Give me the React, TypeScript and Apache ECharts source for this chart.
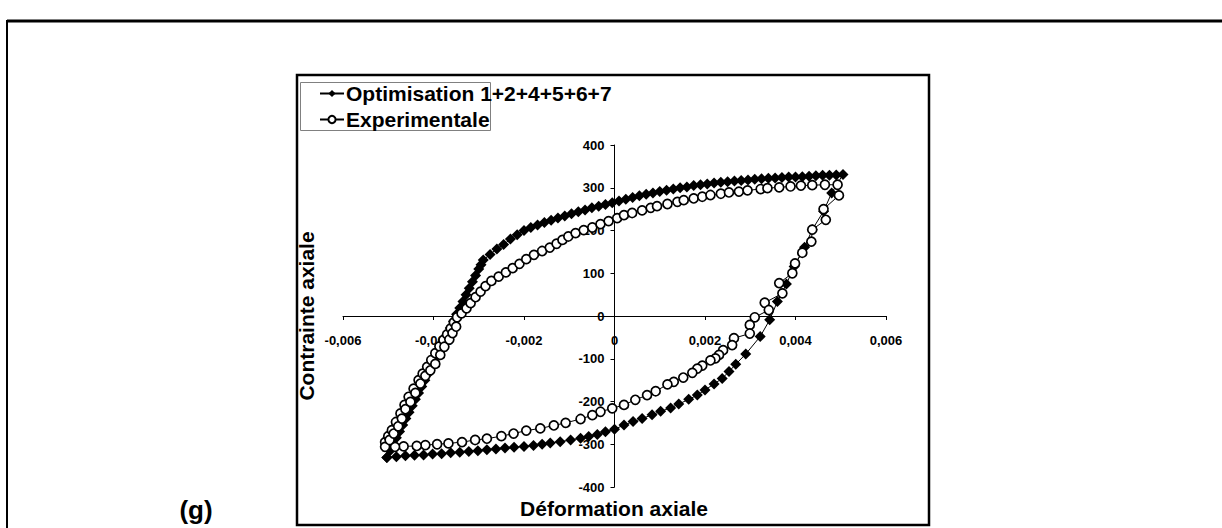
import React, { useEffect, useRef } from "react";
import * as echarts from "echarts";

// Optimisation 1+2+4+5+6+7 : strain (x) and stress (y)
const OPT_STRAIN = [
  -0.00503, -0.00496, -0.00489, -0.00482, -0.00475, -0.00468, -0.00461, -0.00454, -0.00447, -0.0044,
  -0.00433, -0.00426, -0.00419, -0.00412, -0.00405, -0.00398, -0.00391, -0.00384, -0.00377, -0.0037,
  -0.00363, -0.00356, -0.00349, -0.00342, -0.00335, -0.00328, -0.00321, -0.00314, -0.00307, -0.003,
  -0.00295,
  -0.0029, -0.00275, -0.0026, -0.00245, -0.0023, -0.00215, -0.002, -0.00185, -0.0017, -0.00155,
  -0.0014, -0.00125, -0.0011, -0.00095, -0.0008, -0.00065, -0.0005, -0.00035, -0.0002, -0.00005,
  0.0001, 0.00025, 0.0004, 0.00055, 0.0007, 0.00085, 0.001, 0.00115, 0.0013, 0.00145,
  0.0016, 0.00175, 0.0019, 0.00205, 0.0022, 0.00235, 0.0025, 0.00265, 0.0028, 0.00295,
  0.0031, 0.00325, 0.0034, 0.00355, 0.0037, 0.00385, 0.004, 0.00415, 0.0043, 0.00445,
  0.0046, 0.00475, 0.0049, 0.00505,
  0.0048, 0.00462, 0.00437, 0.0042, 0.00397, 0.0038, 0.0036, 0.00343, 0.00322, 0.0029,
  0.00268, 0.00253, 0.00238, 0.0022, 0.002, 0.00183, 0.00164, 0.00142, 0.00124, 0.00102,
  0.00083, 0.00061, 0.00041, 0.00021, 0.0, -0.0002, -0.00038, -0.00057, -0.00075, -0.00097,
  -0.0012, -0.00142, -0.0016, -0.00179, -0.002, -0.00222, -0.00242, -0.00262, -0.00282, -0.00302,
  -0.00322, -0.00342, -0.00362, -0.00382, -0.00402, -0.00422, -0.00442, -0.00462, -0.00482, -0.00503,
];
const OPT_STRESS = [
  -331, -315, -300, -285, -270, -255, -240, -225, -210, -195,
  -180, -165, -150, -135, -120, -105, -90, -75, -60, -44,
  -28, -12, 4, 19, 34, 50, 65, 80, 95, 110,
  120,
  131, 144, 157, 167, 180, 190, 200, 207, 213, 219,
  224, 229, 234, 239, 244, 248, 253, 257, 261, 265,
  269, 273, 277, 281, 285, 288, 291, 294, 297, 300,
  302, 305, 307, 309, 311, 313, 314, 316, 317, 318,
  320, 321, 322, 323, 324, 325, 325, 326, 327, 328,
  329, 329, 330, 331,
  288, 245, 202, 161, 116, 75, 34, -9, -48, -89,
  -113, -130, -146, -159, -173, -185, -195, -206, -215, -223,
  -231, -240, -247, -255, -265, -271, -277, -282, -286, -290,
  -294, -297, -300, -303, -305, -307, -309, -311, -313, -315,
  -317, -319, -320, -322, -323, -325, -326, -327, -329, -331,
];

// Experimentale : strain (x) and stress (y)
const EXP_STRAIN = [
  -0.00507, -0.005, -0.00492, -0.00483, -0.00473, -0.00464, -0.00455, -0.00444, -0.00433, -0.00424,
  -0.00414, -0.00405, -0.00396, -0.00387, -0.00378, -0.0037, -0.00362, -0.00355, -0.00348, -0.00338,
  -0.00327, -0.00318, -0.00307, -0.00296, -0.00285, -0.00272, -0.00256, -0.0024, -0.00225, -0.0021,
  -0.00195, -0.00178, -0.0016, -0.00143, -0.00128, -0.00115, -0.00102, -0.00086, -0.00068, -0.00049,
  -0.00031, -0.00013, 0.00006, 0.00021, 0.00039, 0.00061, 0.0008, 0.00094, 0.00117, 0.00139,
  0.00153, 0.00175, 0.00194, 0.00212, 0.00235, 0.00253, 0.00275, 0.00294, 0.00323, 0.00338,
  0.00364, 0.00389, 0.00412, 0.00437, 0.00465, 0.00493,
  0.00496, 0.00462, 0.00467, 0.00437, 0.00435, 0.00415, 0.00399, 0.00393, 0.00364, 0.00371,
  0.00332, 0.00341, 0.0031, 0.00299, 0.00299, 0.00264, 0.0026, 0.0024, 0.00231, 0.00223,
  0.00212, 0.00194, 0.00183, 0.00172, 0.00152, 0.00131, 0.00117, 0.00091, 0.00072, 0.00046,
  0.00021, -0.00005, -0.00031, -0.00049, -0.00075, -0.00108, -0.00134, -0.00164, -0.00195, -0.00223,
  -0.0025, -0.00282, -0.00308, -0.00337, -0.00367, -0.00392, -0.00418, -0.00437, -0.00466, -0.00485,
  -0.00507,
  -0.00497, -0.00488, -0.00478, -0.0047, -0.00462, -0.00451, -0.0044, -0.00429, -0.00418, -0.00407,
  -0.00396, -0.00385, -0.00376, -0.00365, -0.00358, -0.0035,
];
const EXP_STRESS = [
  -295, -281, -267, -248, -228, -208, -189, -170, -150, -135,
  -119, -103, -87, -71, -56, -43, -29, -15, -3, 6,
  18, 30, 44, 57, 70, 82, 92, 102, 112, 122,
  133, 143, 152, 160, 169, 178, 186, 194, 201, 207,
  215, 222, 229, 236, 241, 247, 253, 257, 262, 267,
  271, 275, 279, 283, 286, 289, 291, 294, 297, 299,
  301, 303, 305, 306, 307, 307,
  282, 250, 225, 202, 174, 148, 123, 100, 77, 53,
  31, 14, -3, -21, -41, -52, -68, -80, -91, -99,
  -104, -116, -123, -133, -144, -154, -160, -176, -185, -196,
  -208, -216, -224, -232, -241, -250, -256, -263, -268, -275,
  -281, -287, -290, -295, -298, -300, -302, -304, -305, -306,
  -306,
  -290, -275, -258, -240, -218, -201, -180, -158, -140, -127,
  -112, -91, -72, -55, -40, -25,
];

const SERIES_NAMES = ["Optimisation 1+2+4+5+6+7", "Experimentale"];
const PANEL_LABEL = "(g)";
const X_TITLE = "Déformation axiale";
const Y_TITLE = "Contrainte axiale";

const zip = (xs: number[], ys: number[]) => xs.map((x, i) => [x, ys[i]]);
const FONT = "'Liberation Sans', Arial, sans-serif";

const GRID = { left: 343, right: 336, top: 145, bottom: 41 };

export default function App() {
  const ref = useRef<HTMLDivElement>(null);
  useEffect(() => {
    const chart = echarts.init(ref.current!, null, { renderer: "svg" });
    const labelStyle = { fontSize: 13, fontWeight: "bold", color: "#000", fontFamily: FONT };
    chart.setOption({
      animation: false,
      backgroundColor: "#fff",
      textStyle: { fontFamily: FONT },
      grid: { ...GRID, containLabel: false },
      xAxis: {
        type: "value",
        min: -0.006,
        max: 0.006,
        interval: 0.002,
        position: "bottom",
        axisLine: { show: true, onZero: false, lineStyle: { color: "#000", width: 1 } },
        axisTick: { show: true, length: 4, lineStyle: { color: "#000" } },
        axisLabel: {
          ...labelStyle,
          margin: 18,
          formatter: (v: number) => (Math.abs(v) < 1e-9 ? "0" : v.toFixed(3).replace(".", ",")),
        },
        splitLine: { show: false },
      },
      yAxis: {
        type: "value",
        min: -400,
        max: 400,
        interval: 100,
        position: "left",
        axisLine: { show: true, onZero: false, lineStyle: { color: "#000", width: 1 } },
        axisTick: { show: true, length: 4, lineStyle: { color: "#000" } },
        axisLabel: { ...labelStyle, margin: 10 },
        splitLine: { show: false },
      },
      legend: {
        orient: "vertical",
        left: 314,
        top: 78,
        itemWidth: 24,
        itemHeight: 9,
        itemGap: 5,
        textStyle: { fontSize: 21, fontWeight: "bold", color: "#000", fontFamily: FONT, padding: [0, 0, 0, -3] },
        data: SERIES_NAMES,
      },
      graphic: [
        { type: "line", shape: { x1: 7, y1: 21, x2: 1222, y2: 21 }, style: { stroke: "#000", lineWidth: 3 } },
        { type: "line", shape: { x1: 7, y1: 20, x2: 7, y2: 528 }, style: { stroke: "#000", lineWidth: 2 } },
        {
          type: "rect",
          shape: { x: 297, y: 75, width: 632, height: 450 },
          style: { fill: "none", stroke: "#000", lineWidth: 2.5 },
          z: -1,
        },
        {
          type: "rect",
          shape: { x: 300.5, y: 82.5, width: 190, height: 48 },
          style: { fill: "none", stroke: "#808080", lineWidth: 1 },
        },
        {
          type: "text",
          x: 614,
          y: 508,
          style: {
            text: X_TITLE, font: `bold 21px ${FONT}`, fill: "#000",
            align: "center", verticalAlign: "middle", textAlign: "center", textVerticalAlign: "middle",
          },
        },
        {
          type: "text",
          x: 306,
          y: 316,
          rotation: Math.PI / 2,
          style: {
            text: Y_TITLE, font: `bold 21px ${FONT}`, fill: "#000",
            align: "center", verticalAlign: "middle", textAlign: "center", textVerticalAlign: "middle",
          },
        },
        {
          type: "text",
          x: 196,
          y: 510,
          style: {
            text: PANEL_LABEL, font: `bold 26px ${FONT}`, fill: "#000",
            align: "center", verticalAlign: "middle", textAlign: "center", textVerticalAlign: "middle",
          },
        },
      ],
      series: [
        {
          name: SERIES_NAMES[0],
          type: "line",
          data: zip(OPT_STRAIN, OPT_STRESS),
          symbol: "diamond",
          symbolSize: 11,
          showSymbol: true,
          showAllSymbol: true,
          lineStyle: { color: "#000", width: 1 },
          itemStyle: { color: "#000" },
          emphasis: { disabled: true },
        },
        {
          name: SERIES_NAMES[1],
          type: "line",
          data: zip(EXP_STRAIN, EXP_STRESS),
          symbol: "circle",
          symbolSize: 9,
          showSymbol: true,
          showAllSymbol: true,
          lineStyle: { color: "#000", width: 1 },
          itemStyle: { color: "#fff", borderColor: "#000", borderWidth: 1.7 },
          emphasis: { disabled: true },
        },
      ],
    });
    // place the axes through the origin, using the axes' own scales
    const origin = chart.convertToPixel({ gridIndex: 0 }, [0, 0]) as number[];
    const plotBottom = 528 - GRID.bottom;
    chart.setOption({
      xAxis: { offset: origin[1] - plotBottom },
      yAxis: { offset: GRID.left - origin[0] },
    });
    return () => chart.dispose();
  }, []);
  return (
    <div
      ref={ref}
      style={{ position: "fixed", left: 0, top: 0, width: 1222, height: 528, background: "#fff" }}
    />
  );
}
